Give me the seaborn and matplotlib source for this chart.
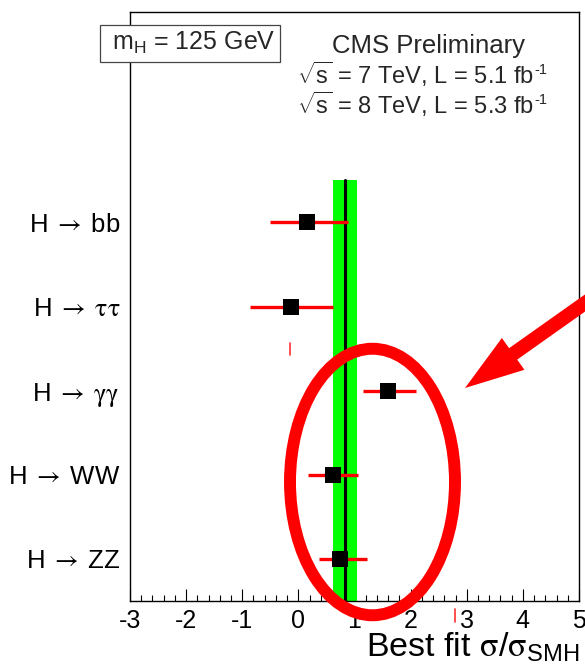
import numpy as np
import pandas as pd
import matplotlib
matplotlib.use("Agg")
import matplotlib.pyplot as plt
import seaborn as sns
from matplotlib.patches import Ellipse, FancyArrow, Rectangle
from matplotlib.lines import Line2D
from matplotlib.transforms import Affine2D
from matplotlib.ticker import MultipleLocator

# Signal strength per decay channel (best fit with asymmetric uncertainties)
channels = [r"H$\;\mathsf{\rightarrow}\:$bb",
            r"H$\;\mathsf{\rightarrow}\:\mathsf{\tau\tau}$",
            r"H$\;\mathsf{\rightarrow}\:\mathsf{\gamma\gamma}$",
            r"H$\;\mathsf{\rightarrow}\:$WW",
            r"H$\;\mathsf{\rightarrow}\:$ZZ"]
best_fit = [0.15, -0.14, 1.60, 0.62, 0.74]
err_down = [0.66, 0.73, 0.45, 0.44, 0.37]
err_up = [0.73, 0.75, 0.50, 0.45, 0.49]

# Combined result
combined_mu = 0.83
combined_err = 0.22

x_ticks = [-3, -2, -1, 0, 1, 2, 3, 4, 5]

sns.set_theme(style="white")
plt.rcParams["font.family"] = ["Liberation Sans", "DejaVu Sans"]
plt.rcParams["mathtext.fontset"] = "custom"
plt.rcParams["mathtext.rm"] = "Liberation Sans"
plt.rcParams["mathtext.it"] = "Liberation Sans:italic"
plt.rcParams["mathtext.bf"] = "Liberation Sans:bold"
plt.rcParams["mathtext.sf"] = "STIXGeneral"

W, H = 585, 671
fig = plt.figure(figsize=(W / 100, H / 100), dpi=100)
fig.patch.set_facecolor("white")
ax = fig.add_axes([130 / W, 1 - 601 / H, 449 / W, 589 / H])
ax.set_facecolor("white")

n = len(channels)
df = pd.DataFrame({
    "channel": channels,
    "mu": best_fit,
    "lo": np.array(best_fit) - np.array(err_down),
    "hi": np.array(best_fit) + np.array(err_up),
})
df["pos"] = (n - 1 - np.arange(n)) + 0.5

# combined band and central value
ax.fill_betweenx([0, n], combined_mu - combined_err, combined_mu + combined_err,
                 color="#00ff00", lw=0, zorder=1)
ax.plot([combined_mu, combined_mu], [0, n], color="black", lw=2.2, zorder=2)

# per-channel uncertainties and best-fit points
ax.hlines(df["pos"], df["lo"], df["hi"], color="red", lw=2.4, zorder=3)
sns.scatterplot(data=df, x="mu", y="pos", marker="s", s=12.2 ** 2,
                color="black", edgecolor="black", linewidth=0, zorder=4,
                ax=ax, legend=False)

ax.set_xlim(-3, 5)
ax.set_ylim(0, 7)
ax.set_xticks(x_ticks)
ax.set_xticklabels([str(t) for t in x_ticks])
ax.xaxis.set_minor_locator(MultipleLocator(0.2))
ax.set_yticks(df["pos"])
ax.set_yticklabels(df["channel"])

ax.tick_params(axis="x", which="major", direction="in", length=8.5, width=0.8,
               color="black", labelsize=18, pad=6, bottom=True, top=False)
ax.tick_params(axis="x", which="minor", direction="in", length=4.5, width=0.8,
               color="black", bottom=True, top=False)
ax.tick_params(axis="y", length=0, pad=7.2, labelsize=18.5)
for lab in ax.get_xticklabels() + ax.get_yticklabels():
    lab.set_color("black")

for sp in ax.spines.values():
    sp.set_visible(True)
    sp.set_color("black")
    sp.set_linewidth(1.0)

ax.set_ylabel("")
ax.set_xlabel(r"Best fit $\mathsf{\sigma}$/$\mathsf{\sigma}$$_{\rm SMH}$",
              fontsize=24.5, loc="right", va="baseline", color="black")
ax.xaxis.set_label_coords(1.0, (601 - 657) / 589)

# pixel-based transform (origin top-left) for annotations
T = Affine2D().scale(1, -1).translate(0, H)

box = Rectangle((100, 25), 180, 37, transform=T, facecolor="white",
                edgecolor="#444444", lw=0.9, zorder=5)
fig.add_artist(box)
fig.text(112, 50, r"m$_{\rm H}$ = 125 GeV", transform=T, fontsize=18,
         va="baseline", ha="left", zorder=6)

fig.text(428, 53, "CMS Preliminary", transform=T, fontsize=18.5,
         va="baseline", ha="center", zorder=6)

renderer = fig.canvas.get_renderer()
for label, base in [(r"$\sqrt{\rm s}$ = 7 TeV, L = 5.1 fb", 84),
                    (r"$\sqrt{\rm s}$ = 8 TeV, L = 5.3 fb", 114)]:
    t = fig.text(297, base, label, transform=T, fontsize=17,
                 va="baseline", ha="left", zorder=6)
    right = t.get_window_extent(renderer).x1
    fig.text(right + 0.5, base - 10, "-1", transform=T, fontsize=10.5,
             va="baseline", ha="left", zorder=6)

# highlight ellipse and arrow
ell = Ellipse((372.5, 482), 165, 266.5, transform=T, fill=False,
              edgecolor="#ff0000", lw=8.6, zorder=10)
fig.add_artist(ell)
arrow = FancyArrow(600, 292.4, 465 - 600, 388 - 292.4, width=14,
                   head_width=39, head_length=59, length_includes_head=True,
                   transform=T, color="#ff0000", lw=0, zorder=10)
fig.add_artist(arrow)

# small red strokes
fig.add_artist(Line2D([289.5, 289.5], [343, 355], transform=T, color="#ff3030",
                      lw=1.2, zorder=10))
fig.add_artist(Line2D([455, 455], [609, 622], transform=T, color="#ff3030",
                      lw=1.2, zorder=10))

fig.savefig("out.png", dpi=100)
